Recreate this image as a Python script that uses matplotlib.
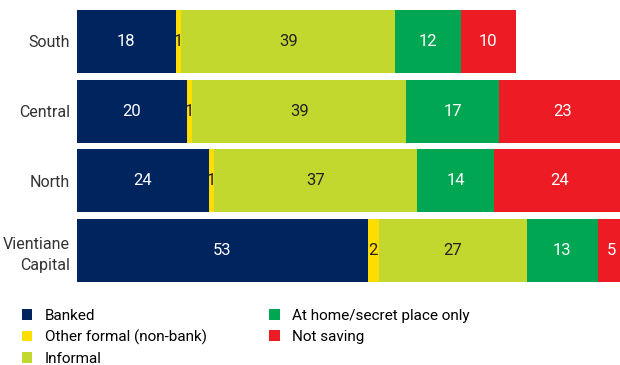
import matplotlib.pyplot as plt
from matplotlib.patches import Patch

plt.rcParams['font.family'] = ['Roboto', 'DejaVu Sans']

# Savings channel shares (%) by region
regions = ['South', 'Central', 'North', 'Vientiane\nCapital']
series = ['Banked', 'Other formal (non-bank)', 'Informal',
          'At home/secret place only', 'Not saving']
banked = [18, 20, 24, 53]
other_formal = [1, 1, 1, 2]
informal = [39, 39, 37, 27]
at_home = [12, 17, 14, 13]
not_saving = [10, 23, 24, 5]

colors = ['#00245d', '#ffdd00', '#c3d82e', '#00a651', '#ed1c24']
text_colors = ['white', '#222222', '#222222', 'white', 'white']

fig = plt.figure(figsize=(6.2, 3.65), dpi=100)
ax = fig.add_axes([77 / 620, 1 - 282 / 365, 543 / 620, 272 / 365])

left = [0] * len(regions)
for name, vals, c, tc in zip(series, [banked, other_formal, informal, at_home, not_saving],
                             colors, text_colors):
    bars = ax.barh(range(len(regions)), vals, left=left, height=0.9, color=c, label=name)
    for b, v in zip(bars, vals):
        ax.text(b.get_x() + b.get_width() / 2, b.get_y() + b.get_height() / 2, str(v),
                ha='center', va='center', color=tc, fontsize=12)
    left = [l + v for l, v in zip(left, vals)]

ax.set_xlim(0, 99)
ax.set_ylim(len(regions) - 0.55, -0.45)
ax.set_yticks(range(len(regions)))
ax.set_yticklabels(regions, fontsize=11.5, color='#333333', linespacing=1.5)
ax.tick_params(axis='y', length=0, pad=5)
ax.set_xticks([])
for s in ax.spines.values():
    s.set_visible(False)

handles = [Patch(facecolor=c, label=n) for c, n in zip(colors, series)]
fig.legend(handles=handles, ncol=2, loc='upper left', bbox_to_anchor=(14 / 620, 1 - 301 / 365),
           frameon=False, fontsize=11, handlelength=0.7, handleheight=0.7,
           handletextpad=0.8, labelspacing=0.45, columnspacing=4.1, borderpad=0)

fig.savefig('out.png', dpi=100)
